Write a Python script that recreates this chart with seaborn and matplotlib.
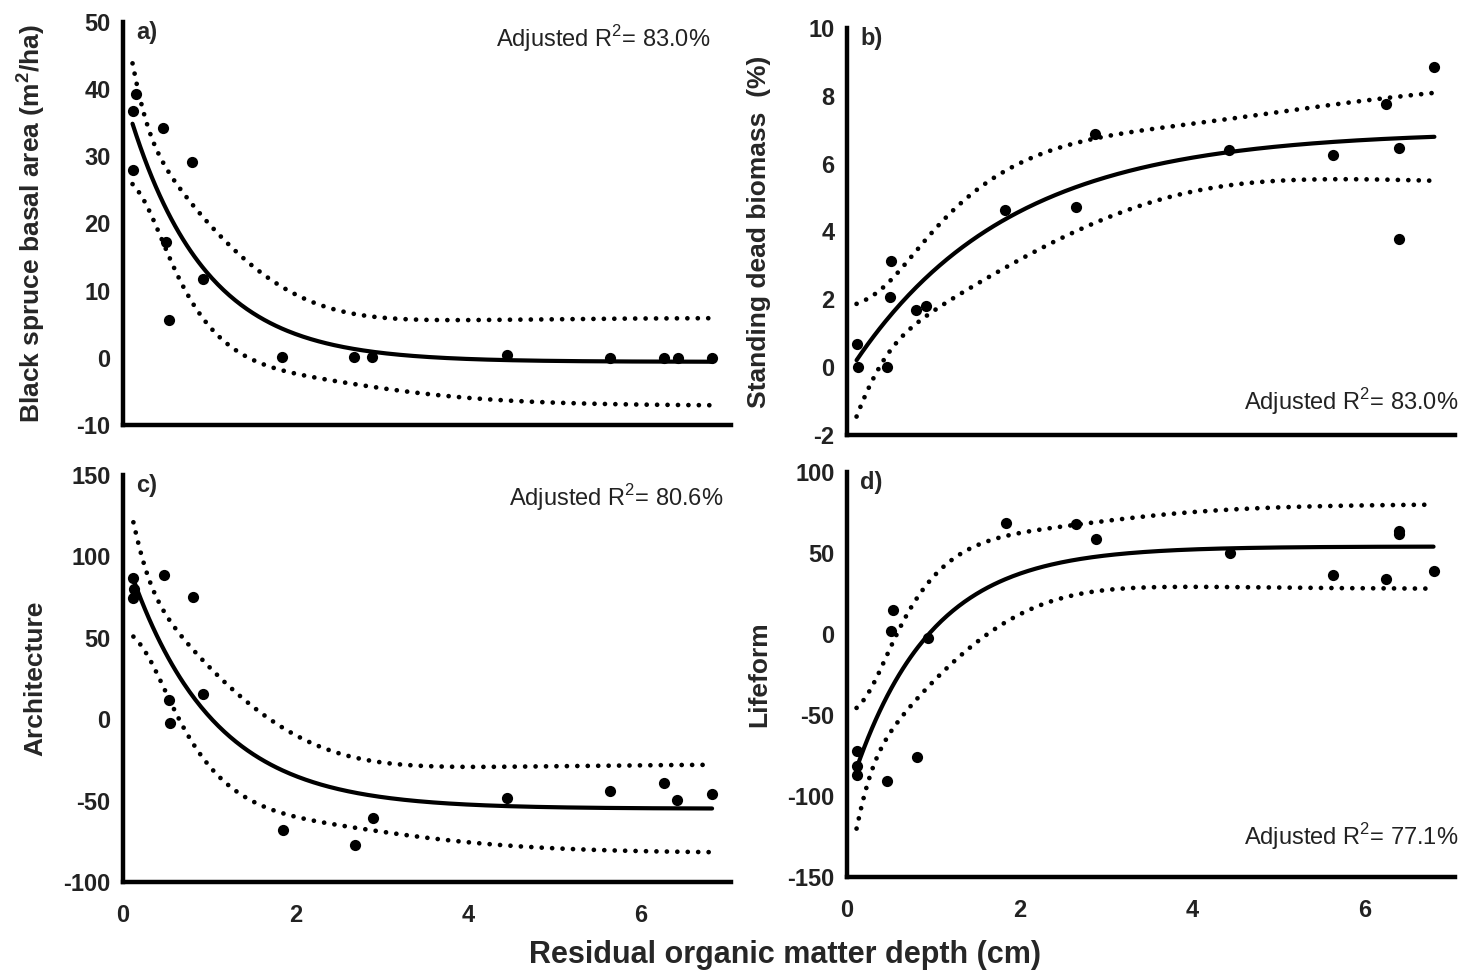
"""Exponential decay/rise fits of four stand attributes against residual organic matter depth."""
import numpy as np
import pandas as pd
import matplotlib
matplotlib.use("Agg")
import matplotlib.pyplot as plt
import seaborn as sns

sns.set_style("white")
plt.rcParams["font.family"] = ["Liberation Sans", "DejaVu Sans"]
plt.rcParams["mathtext.fontset"] = "custom"
plt.rcParams["mathtext.rm"] = "Liberation Sans"
plt.rcParams["mathtext.bf"] = "Liberation Sans:bold"
plt.rcParams["axes.unicode_minus"] = False

# values, one pair of lists per panel
depth_a = [0.11, 0.11, 0.15, 0.46, 0.50, 0.53, 0.80, 0.93, 1.84, 2.68, 2.89, 4.45, 5.65, 6.27, 6.43, 6.83]
basal_area = [36.7, 27.9, 39.3, 34.2, 17.2, 5.7, 29.2, 11.8, 0.1, 0.1, 0.1, 0.4, 0.0, 0.0, 0.0, 0.0]

depth_b = [0.11, 0.13, 0.46, 0.51, 0.50, 0.80, 0.92, 1.83, 2.66, 2.88, 4.43, 5.63, 6.25, 6.40, 6.40, 6.81]
standing_dead = [0.68, 0.0, 0.0, 3.12, 2.08, 1.69, 1.79, 4.64, 4.71, 6.87, 6.39, 6.26, 7.76, 6.46, 3.79, 8.85]

depth_c = [0.12, 0.13, 0.12, 0.47, 0.53, 0.54, 0.81, 0.93, 1.85, 2.69, 2.90, 4.45, 5.65, 6.27, 6.42, 6.83]
architecture = [86.5, 80.0, 74.2, 88.5, 11.9, -2.5, 75.3, 15.3, -67.9, -77.5, -60.7, -48.5, -44.0, -39.3, -49.5, -45.8]

depth_d = [0.11, 0.11, 0.11, 0.46, 0.51, 0.53, 0.81, 0.94, 1.84, 2.66, 2.89, 4.44, 5.63, 6.25, 6.40, 6.40, 6.80]
lifeform = [-72.4, -81.7, -86.8, -90.9, 2.1, 15.0, -76.1, -2.5, 68.5, 67.9, 58.8, 50.0, 36.6, 34.0, 63.8, 61.7, 39.1]

panels = [
    ("a)", depth_a, basal_area, "Black spruce basal area (m$^\\mathbf{2}$/ha)", (-10, 50), 10, "83.0%", "top"),
    ("b)", depth_b, standing_dead, "Standing dead biomass  (%)", (-2, 10), 2, "83.0%", "bottom"),
    ("c)", depth_c, architecture, "Architecture", (-100, 150), 50, "80.6%", "top"),
    ("d)", depth_d, lifeform, "Lifeform", (-150, 100), 50, "77.1%", "bottom"),
]

T95 = 2.16  # two-sided 95% t quantile, ~13 df


def exp_fit(x, y):
    """y = a + b*exp(-c*x) by least squares, with 95% confidence band of the mean."""
    x = np.asarray(x, float)
    y = np.asarray(y, float)
    best = None
    for c in np.linspace(0.05, 6, 4000):
        X = np.column_stack([np.ones_like(x), np.exp(-c * x)])
        coef, *_ = np.linalg.lstsq(X, y, rcond=None)
        sse = ((y - X @ coef) ** 2).sum()
        if best is None or sse < best[0]:
            best = (sse, coef[0], coef[1], c)
    sse, a, b, c = best
    J = np.column_stack([np.ones_like(x), np.exp(-c * x), -b * x * np.exp(-c * x)])
    cov = sse / (len(x) - 3) * np.linalg.inv(J.T @ J)
    xs = np.linspace(x.min(), x.max(), 300)
    G = np.column_stack([np.ones_like(xs), np.exp(-c * xs), -b * xs * np.exp(-c * xs)])
    fit = a + b * np.exp(-c * xs)
    se = np.sqrt(np.einsum("ij,jk,ik->i", G, cov, G))
    return pd.DataFrame({"x": xs, "fit": fit, "lo": fit - T95 * se, "hi": fit + T95 * se})


fig = plt.figure(figsize=(14.63, 9.74), dpi=100)
rects = [
    [0.0841, 0.5637, 0.4156, 0.4137],
    [0.5790, 0.5534, 0.4156, 0.4180],
    [0.0841, 0.0945, 0.4156, 0.4179],
    [0.5790, 0.0996, 0.4156, 0.4158],
]

dotted = dict(color="black", lw=3.4, linestyle=(0, (0.01, 2.2)), dash_capstyle="round")

for i, ((tag, xv, yv, ylabel, ylim, ystep, r2, r2pos), rect) in enumerate(zip(panels, rects)):
    ax = fig.add_axes(rect)
    df = pd.DataFrame({"x": xv, "y": yv})
    curve = exp_fit(xv, yv)

    ax.plot(curve["x"], curve["hi"], **dotted)
    ax.plot(curve["x"], curve["lo"], **dotted)
    sns.lineplot(data=curve, x="x", y="fit", color="black", lw=3, ax=ax,
                 estimator=None, sort=False)
    sns.scatterplot(data=df, x="x", y="y", color="black", s=65, edgecolor="black",
                    linewidth=0, ax=ax, zorder=5)

    ax.set_xlim(0, 7.05)
    ax.set_ylim(*ylim)
    ax.set_xticks([0, 2, 4, 6])
    ax.set_yticks(np.arange(ylim[0], ylim[1] + 0.1, ystep))
    for s in ["top", "right"]:
        ax.spines[s].set_visible(False)
    for s in ["left", "bottom"]:
        ax.spines[s].set_linewidth(3.2)
        ax.spines[s].set_color("black")
    ax.tick_params(axis="y", direction="out", length=4, width=1, pad=5)
    ax.tick_params(axis="x", direction="out", length=8, width=1.5, pad=8)
    for lab in ax.get_yticklabels() + ax.get_xticklabels():
        lab.set_fontsize(17)
        lab.set_fontweight("bold")
        lab.set_color("#222222")
    if i < 2:
        ax.set_xticklabels([])
    ax.set_xlabel("")
    ax.set_ylabel(ylabel, fontsize=19, fontweight="bold")
    ax.yaxis.set_label_coords(-0.125, 0.5)

    ax.text(0.022, 0.975, tag, transform=ax.transAxes, ha="left", va="center",
            fontsize=17, fontweight="bold")
    if r2pos == "top":
        tx, ty = (0.966, 0.96) if i == 0 else (0.988, 0.945)
    else:
        tx, ty = 1.005, (0.081 if i == 1 else 0.10)
    ax.text(tx, ty, f"Adjusted R$^{{2}}$= {r2}", transform=ax.transAxes,
            ha="right", va="center", fontsize=17, color="#222222")

fig.text(0.5366, 0.0195, "Residual organic matter depth (cm)", ha="center", va="center",
         fontsize=22, fontweight="bold")

plt.savefig("out.png", dpi=100)
plt.close(fig)
